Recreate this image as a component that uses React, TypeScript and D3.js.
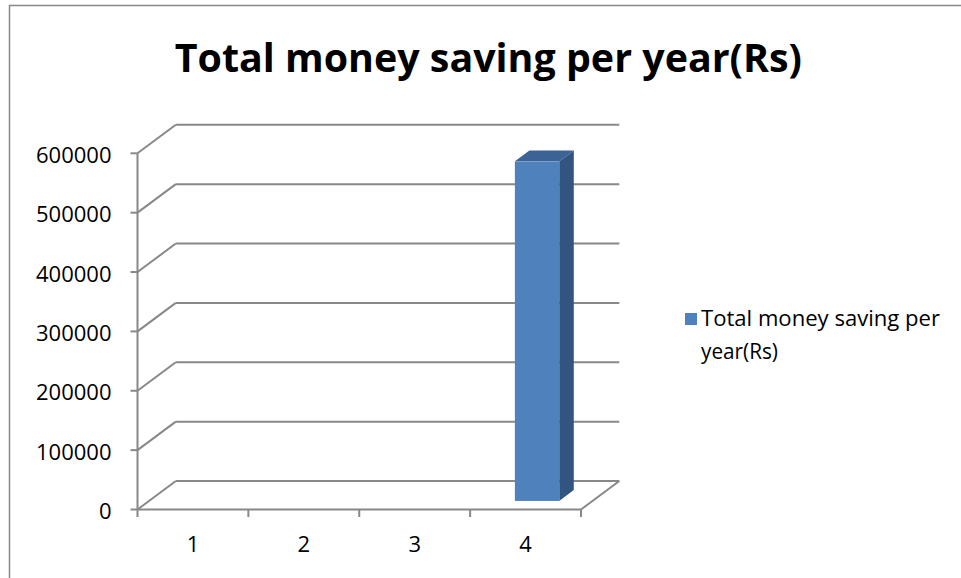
import React from 'react';
import * as d3 from 'd3';

const categories = ['1', '2', '3', '4'];
const values = [0, 0, 0, 572000];
const yTicks = [0, 100000, 200000, 300000, 400000, 500000, 600000];
const seriesName = 'Total money saving per year(Rs)';
const legendLines = ['Total money saving per', 'year(Rs)'];
const title = 'Total money saving per year(Rs)';

export default function App() {
  const W = 961, H = 578;
  const x0 = 137.5, x1 = 581, yBottom = 509.5, yTop = 153.3;
  const dx = 38.3, dy = -28.5;
  const f1 = 0.3, f2 = 0.68;
  const grid = '#888888';
  const font = "'Open Sans', 'Liberation Sans', sans-serif";

  const y = d3.scaleLinear().domain([0, 600000]).range([yBottom, yTop]);
  const x = d3.scaleBand<string>().domain(categories).range([x0, x1]).paddingInner(0.6).paddingOuter(0.3);
  const step = x.step();
  const outer = step * 0.3;
  const bounds = categories.map(c => (x(c) as number) - outer);
  bounds.push((x(categories[categories.length - 1]) as number) + x.bandwidth() + outer);

  const pts = (arr: [number, number][]) => arr.map(p => p.join(',')).join(' ');

  return (
    <svg width={W} height={H} style={{ position: 'absolute', left: 0, top: 0, background: '#fff' }}>
      <rect x={9.5} y={5.5} width={1000} height={1000} fill="#fff" stroke="#878787" strokeWidth={1.5} />
      <text x={488.3} y={71.7} textAnchor="middle" fontFamily={font} fontWeight="bold" fontSize={40}
        textLength={627} lengthAdjust="spacingAndGlyphs" fill="#000">{title}</text>

      {/* left wall diagonals + back wall gridlines */}
      {yTicks.map(t => (
        <g key={t}>
          <line x1={x0} y1={y(t)} x2={x0 + dx} y2={y(t) + dy} stroke={grid} strokeWidth={2} />
          <line x1={x0 + dx} y1={y(t) + dy} x2={x1 + dx} y2={y(t) + dy} stroke={grid} strokeWidth={2} />
          <line x1={x0 - 7} y1={y(t)} x2={x0} y2={y(t)} stroke={grid} strokeWidth={2} />
          <text x={111.5} y={y(t) + 9.7} textAnchor="end" fontFamily={font} fontSize={22} fill="#000">{t}</text>
        </g>
      ))}
      {/* floor right edge */}
      <line x1={x1} y1={yBottom} x2={x1 + dx} y2={yBottom + dy} stroke={grid} strokeWidth={2} />
      {/* value axis */}
      <line x1={x0} y1={yTop} x2={x0} y2={yBottom} stroke={grid} strokeWidth={2} />
      {/* category axis */}
      <line x1={x0} y1={yBottom} x2={x1} y2={yBottom} stroke={grid} strokeWidth={2} />
      {bounds.map((b, i) => (
        <line key={i} x1={b} y1={yBottom} x2={b} y2={yBottom + 7.5} stroke={grid} strokeWidth={2} />
      ))}
      {categories.map(c => (
        <text key={c} x={(x(c) as number) + x.bandwidth() / 2} y={551.7} textAnchor="middle" fontFamily={font} fontSize={22} fill="#000">{c}</text>
      ))}

      {/* bars */}
      {categories.map((c, i) => {
        const v = values[i];
        if (v <= 0) return null;
        const xl = x(c) as number;
        const xr = xl + x.bandwidth();
        const yt = y(v);
        const yb = y(0);
        return (
          <g key={c}>
            <polygon points={pts([[xr + f1 * dx, yt + f1 * dy], [xr + f2 * dx, yt + f2 * dy], [xr + f2 * dx, yb + f2 * dy], [xr + f1 * dx, yb + f1 * dy]])} fill="#32557f" />
            <polygon points={pts([[xl + f1 * dx, yt + f1 * dy], [xl + f2 * dx, yt + f2 * dy], [xr + f2 * dx, yt + f2 * dy], [xr + f1 * dx, yt + f1 * dy]])} fill="#3b6395" />
            <rect x={xl + f1 * dx} y={yt + f1 * dy} width={x.bandwidth()} height={yb - yt} fill="#4f81bd" />
          </g>
        );
      })}

      {/* legend */}
      <rect x={685} y={313} width={12} height={12} fill="#4f81bd" />
      <text fontFamily={font} fontSize={21.5} fill="#000">
        <tspan x={701} y={326} textLength={239} lengthAdjust="spacingAndGlyphs">{legendLines[0]}</tspan>
        <tspan x={701} y={358.5} textLength={77} lengthAdjust="spacingAndGlyphs">{legendLines[1]}</tspan>
      </text>
      <title>{seriesName}</title>
    </svg>
  );
}
